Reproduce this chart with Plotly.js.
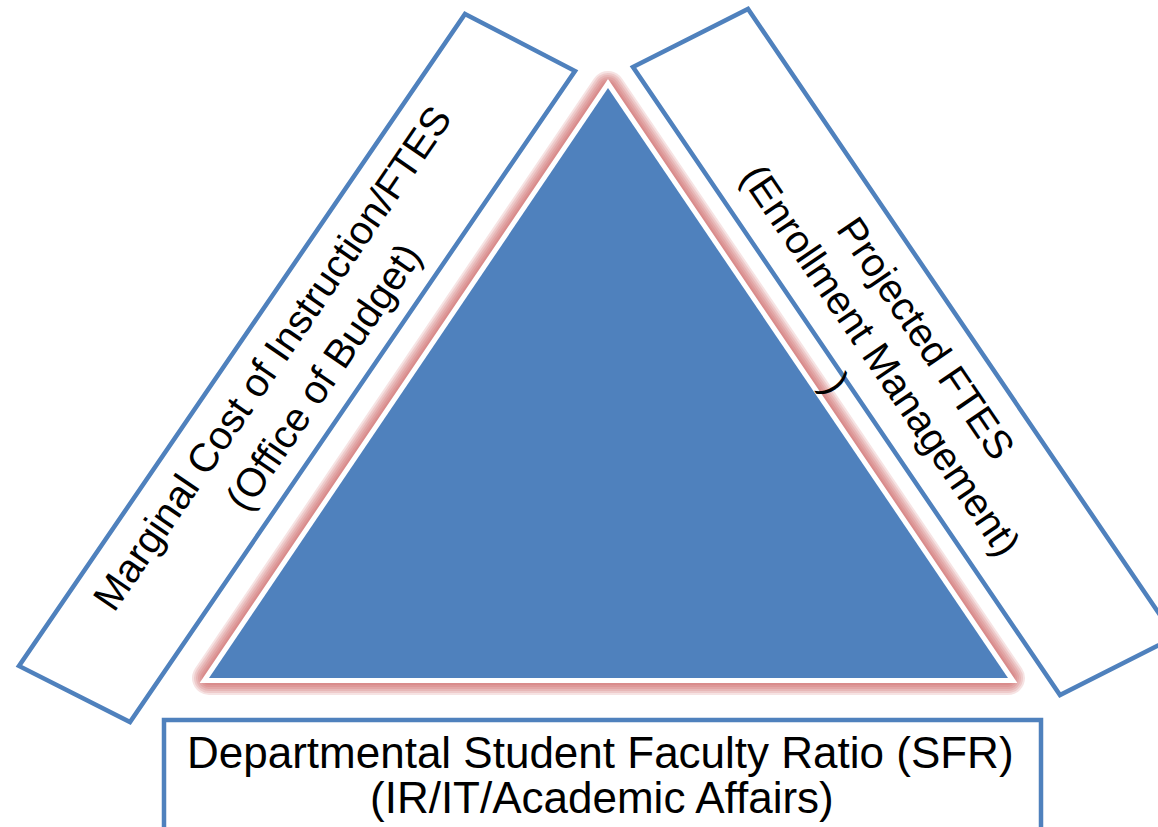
<!DOCTYPE html>
<html>
<head>
<meta charset="utf-8">
<script src="https://cdn.plot.ly/plotly-3.0.1.min.js"></script>
<style>
  html, body { margin: 0; padding: 0; background: #ffffff; }
  #chart { width: 1158px; height: 827px; }
</style>
</head>
<body>
<div id="chart"></div>
<script>
// ---- diagram data (pixel-space coordinates on a 1158 x 827 canvas) ----
const triangleX = [608, 209, 1008];
const triangleY = [88, 678, 678];

const leftBoxX = [465, 575, 130, 19];
const leftBoxY = [14, 71, 722, 666];

const rightBoxX = [633, 748, 1175, 1060];
const rightBoxY = [67, 9, 637, 695];

const bottomBoxX = [164, 1041];
const bottomBoxY = [720, 850];

const leftLabels = ["Marginal Cost of Instruction/FTES", "(Office of Budget)"];
const leftLabelX = [272, 323];
const leftLabelY = [358, 377];

const rightLabels = ["Projected FTES", "(Enrollment Management)", ")"];
const rightLabelX = [926, 881, 836];
const rightLabelY = [338, 360, 383];

const bottomLabels = ["Departmental Student Faculty Ratio (SFR)", "(IR/IT/Academic Affairs)"];
const bottomLabelX = [600, 602];
const bottomLabelY = [752, 797];

// ---- styling ----
const BLUE = "#4F81BD";
const FONT = "Liberation Sans, Arial, sans-serif";

function polyPath(xs, ys) {
  return xs.map((x, i) => (i === 0 ? "M" : "L") + x + "," + ys[i]).join(" ") + " Z";
}

const triPath = polyPath(triangleX, triangleY);
const shapes = [];

// soft red glow around the triangle (stacked translucent strokes)
const glowWidths = [34, 30, 26, 22, 18, 14];
glowWidths.forEach(w => {
  shapes.push({
    type: "path", xref: "x", yref: "y", path: triPath,
    line: { color: "rgba(200,80,80,0.16)", width: w },
    fillcolor: "rgba(0,0,0,0)", layer: "above"
  });
});
const nGlow = shapes.length;

// white border
shapes.push({
  type: "path", xref: "x", yref: "y", path: triPath,
  line: { color: "#ffffff", width: 10 }, fillcolor: "#ffffff", layer: "above"
});
// blue triangle
shapes.push({
  type: "path", xref: "x", yref: "y", path: triPath,
  line: { color: BLUE, width: 0 }, fillcolor: BLUE, layer: "above"
});

// outlined boxes
shapes.push({
  type: "path", xref: "x", yref: "y", path: polyPath(leftBoxX, leftBoxY),
  line: { color: BLUE, width: 4.5 }, fillcolor: "#ffffff", layer: "above"
});
shapes.push({
  type: "path", xref: "x", yref: "y", path: polyPath(rightBoxX, rightBoxY),
  line: { color: BLUE, width: 4.5 }, fillcolor: "#ffffff", layer: "above"
});
shapes.push({
  type: "rect", xref: "x", yref: "y",
  x0: bottomBoxX[0], x1: bottomBoxX[1], y0: bottomBoxY[0], y1: bottomBoxY[1],
  line: { color: BLUE, width: 4.5 }, fillcolor: "#ffffff", layer: "above"
});

const annotations = [];
function addLabels(texts, xs, ys, angle, size) {
  texts.forEach((t, i) => {
    annotations.push({
      text: t, x: xs[i], y: ys[i], xref: "x", yref: "y",
      showarrow: false, textangle: angle, xanchor: "center", yanchor: "middle",
      font: { family: FONT, size: size, color: "#000000" }
    });
  });
}
addLabels(leftLabels, leftLabelX, leftLabelY, -55.6, 40);
addLabels(rightLabels, rightLabelX, rightLabelY, 55.8, 40);
addLabels(bottomLabels, bottomLabelX, bottomLabelY, 0, 44);

const layout = {
  width: 1158, height: 827,
  margin: { l: 0, r: 0, t: 0, b: 0, pad: 0 },
  paper_bgcolor: "#ffffff", plot_bgcolor: "#ffffff",
  showlegend: false,
  xaxis: { range: [0, 1158], visible: false, fixedrange: true },
  yaxis: { range: [827, 0], visible: false, fixedrange: true },
  shapes: shapes,
  annotations: annotations
};

Plotly.newPlot("chart", [{ x: [], y: [], type: "scatter", mode: "lines", hoverinfo: "skip" }], layout,
  { displayModeBar: false, staticPlot: true }).then(() => {
  document.querySelectorAll(".shapelayer path").forEach(p => {
    const idx = parseInt(p.getAttribute("data-index"), 10);
    if (!isNaN(idx) && idx < nGlow) {
      p.style.strokeLinejoin = "round";
    }
  });
});
</script>
</body>
</html>
